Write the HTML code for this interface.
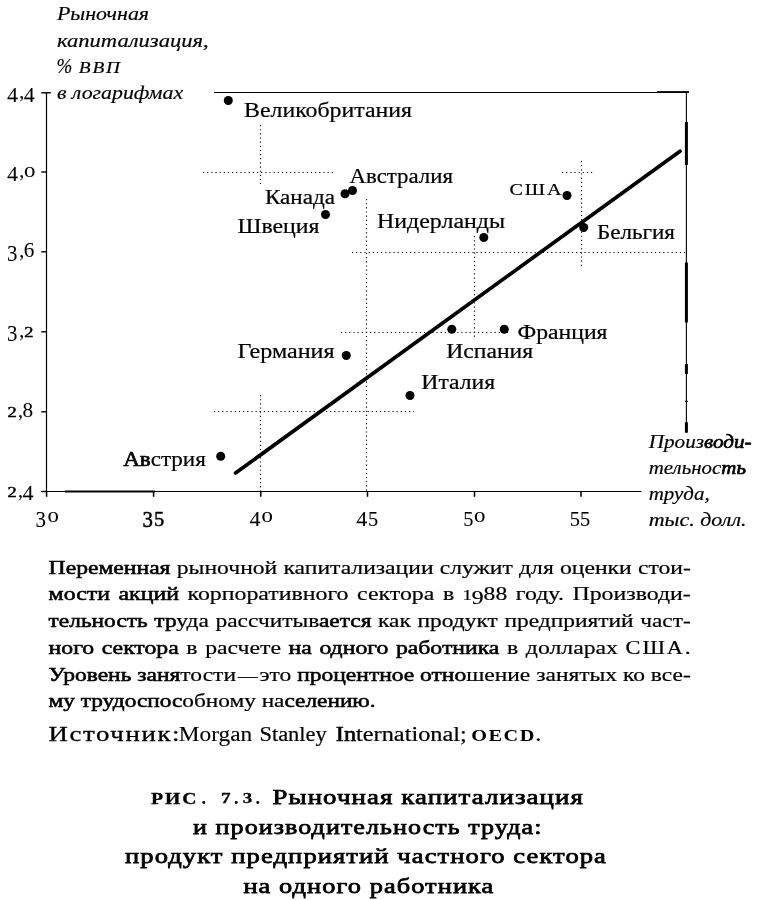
<!DOCTYPE html>
<html lang="ru"><head><meta charset="utf-8"><title>Рис. 7.3</title>
<style>
html,body{margin:0;padding:0;background:#fff;}
body{width:760px;height:900px;overflow:hidden;font-family:"Liberation Serif",serif;}
svg{display:block;will-change:transform;}
svg text{font-family:"Liberation Serif",serif;fill:#000;}
</style></head><body>
<svg width="760" height="900" viewBox="0 0 760 900">
<rect width="760" height="900" fill="#fff"/>
<line x1="46.5" y1="92.3" x2="46.5" y2="492" stroke="#000" stroke-width="1.2" />
<line x1="41.3" y1="92.8" x2="50.8" y2="92.8" stroke="#000" stroke-width="1.4" />
<line x1="41.3" y1="172" x2="46.5" y2="172" stroke="#000" stroke-width="1.4" />
<line x1="41.3" y1="251.8" x2="46.5" y2="251.8" stroke="#000" stroke-width="1.4" />
<line x1="41.3" y1="331.8" x2="46.5" y2="331.8" stroke="#000" stroke-width="1.4" />
<line x1="41.3" y1="411.8" x2="46.5" y2="411.8" stroke="#000" stroke-width="1.4" />
<line x1="41.3" y1="491.5" x2="46.5" y2="491.5" stroke="#000" stroke-width="1.4" />
<line x1="41.3" y1="491.5" x2="641.5" y2="491.5" stroke="#000" stroke-width="1.15" />
<line x1="65" y1="491.6" x2="155" y2="491.6" stroke="#000" stroke-width="2" />
<line x1="46.6" y1="491.5" x2="46.6" y2="496.8" stroke="#000" stroke-width="1.5" />
<line x1="153.6" y1="491.5" x2="153.6" y2="496.8" stroke="#000" stroke-width="1.5" />
<line x1="260.8" y1="491.5" x2="260.8" y2="496.8" stroke="#000" stroke-width="1.5" />
<line x1="367.5" y1="491.5" x2="367.5" y2="496.8" stroke="#000" stroke-width="1.5" />
<line x1="474.5" y1="491.5" x2="474.5" y2="496.8" stroke="#000" stroke-width="1.5" />
<line x1="581" y1="491.5" x2="581" y2="496.8" stroke="#000" stroke-width="1.5" />
<line x1="214" y1="92.5" x2="688" y2="92.5" stroke="#000" stroke-width="1.1" />
<line x1="657" y1="92" x2="689" y2="92" stroke="#000" stroke-width="1.8" />
<line x1="686.4" y1="92" x2="686.4" y2="432.5" stroke="#000" stroke-width="1.1" />
<line x1="686.4" y1="122" x2="686.4" y2="165" stroke="#000" stroke-width="3" />
<line x1="686.4" y1="262.5" x2="686.4" y2="322.5" stroke="#000" stroke-width="3" />
<line x1="686.4" y1="364" x2="686.4" y2="374" stroke="#000" stroke-width="3" />
<line x1="686.4" y1="422.3" x2="686.4" y2="432.7" stroke="#000" stroke-width="3" />
<line x1="684.8" y1="401.3" x2="688.0" y2="401.3" stroke="#000" stroke-width="1" />
<line x1="203" y1="172.5" x2="335" y2="172.5" stroke="#000" stroke-width="1.15" stroke-dasharray="1.15 3.0"/>
<line x1="260.5" y1="125" x2="260.5" y2="184" stroke="#000" stroke-width="1.15" stroke-dasharray="1.15 3.0"/>
<line x1="562" y1="172.5" x2="595" y2="172.5" stroke="#000" stroke-width="1.15" stroke-dasharray="1.15 3.0"/>
<line x1="581.5" y1="161" x2="581.5" y2="268" stroke="#000" stroke-width="1.15" stroke-dasharray="1.15 3.0"/>
<line x1="352" y1="252.5" x2="686" y2="252.5" stroke="#000" stroke-width="1.15" stroke-dasharray="1.15 3.0"/>
<line x1="366.5" y1="199" x2="366.5" y2="491" stroke="#000" stroke-width="1.15" stroke-dasharray="1.15 3.0"/>
<line x1="474.5" y1="236" x2="474.5" y2="337" stroke="#000" stroke-width="1.15" stroke-dasharray="1.15 3.0"/>
<line x1="341" y1="332.5" x2="508" y2="332.5" stroke="#000" stroke-width="1.15" stroke-dasharray="1.15 3.0"/>
<line x1="214" y1="411.5" x2="414" y2="411.5" stroke="#000" stroke-width="1.15" stroke-dasharray="1.15 3.0"/>
<line x1="260.5" y1="395" x2="260.5" y2="491" stroke="#000" stroke-width="1.15" stroke-dasharray="1.15 3.0"/>
<line x1="235.5" y1="473" x2="680" y2="151.25" stroke="#000" stroke-width="3.7" stroke-linecap="round"/>
<circle cx="228.3" cy="100.5" r="4.5" fill="#000"/>
<circle cx="352.5" cy="190.5" r="4.5" fill="#000"/>
<circle cx="345" cy="193.7" r="4.5" fill="#000"/>
<circle cx="325.5" cy="214.5" r="4.5" fill="#000"/>
<circle cx="567" cy="195.5" r="4.5" fill="#000"/>
<circle cx="483.8" cy="237.5" r="4.5" fill="#000"/>
<circle cx="583.7" cy="227.5" r="4.5" fill="#000"/>
<circle cx="451.8" cy="329.3" r="4.5" fill="#000"/>
<circle cx="504.3" cy="329.3" r="4.5" fill="#000"/>
<circle cx="346.3" cy="355.5" r="4.5" fill="#000"/>
<circle cx="410" cy="395.5" r="4.5" fill="#000"/>
<circle cx="220.7" cy="456.2" r="4.5" fill="#000"/>
<text x="244" y="117" font-size="20" textLength="168" lengthAdjust="spacingAndGlyphs" stroke="#000" stroke-width="0.2">Великобритания</text>
<text x="349.5" y="183" font-size="20" textLength="103.5" lengthAdjust="spacingAndGlyphs" stroke="#000" stroke-width="0.2">Австралия</text>
<text x="265" y="204" font-size="20" textLength="70" lengthAdjust="spacingAndGlyphs" stroke="#000" stroke-width="0.2">Канада</text>
<text x="237.5" y="232.5" font-size="20" textLength="82" lengthAdjust="spacingAndGlyphs" stroke="#000" stroke-width="0.2">Швеция</text>
<text x="377" y="227.5" font-size="20" textLength="128" lengthAdjust="spacingAndGlyphs" stroke="#000" stroke-width="0.2">Нидерланды</text>
<text x="597" y="238.8" font-size="20" textLength="78" lengthAdjust="spacingAndGlyphs" stroke="#000" stroke-width="0.2">Бельгия</text>
<text x="446.3" y="357.5" font-size="20" textLength="86.8" lengthAdjust="spacingAndGlyphs" stroke="#000" stroke-width="0.2">Испания</text>
<text x="517.5" y="338.8" font-size="20" textLength="90" lengthAdjust="spacingAndGlyphs" stroke="#000" stroke-width="0.2">Франция</text>
<text x="237.5" y="358" font-size="20" textLength="97" lengthAdjust="spacingAndGlyphs" stroke="#000" stroke-width="0.2">Германия</text>
<text x="421.3" y="388.8" font-size="20" textLength="73.8" lengthAdjust="spacingAndGlyphs" stroke="#000" stroke-width="0.2">Италия</text>
<text x="123.2" y="465.8" font-size="20" textLength="82.6" lengthAdjust="spacingAndGlyphs" stroke="#000" stroke-width="0.2"><tspan stroke="#000" stroke-width="0.6">Ав</tspan>стрия</text>
<text x="509.6" y="194.8" font-size="17.6" textLength="53.8" lengthAdjust="spacingAndGlyphs" letter-spacing="1.6" stroke="#000" stroke-width="0.2">США</text>
<text x="6.9" y="101.5" font-size="20.5" textLength="11" lengthAdjust="spacingAndGlyphs" stroke="#000" stroke-width="0.05">4</text>
<text x="19.3" y="97.9" font-size="20" stroke="#000" stroke-width="0.05">,</text>
<text x="23.7" y="101.5" font-size="20.5" textLength="11" lengthAdjust="spacingAndGlyphs" stroke="#000" stroke-width="0.05">4</text>
<text x="6.9" y="180.6" font-size="20.5" textLength="11" lengthAdjust="spacingAndGlyphs" stroke="#000" stroke-width="0.05">4</text>
<text x="19.3" y="177.0" font-size="20" stroke="#000" stroke-width="0.05">,</text>
<text x="24.1" y="177.0" font-size="21" textLength="11.4" lengthAdjust="spacingAndGlyphs" stroke="#000" stroke-width="0.05">о</text>
<text x="6.9" y="261.4" font-size="22.5" textLength="10.4" lengthAdjust="spacingAndGlyphs" stroke="#000" stroke-width="0.05">3</text>
<text x="19.3" y="256.8" font-size="20" stroke="#000" stroke-width="0.05">,</text>
<text x="23.7" y="256.8" font-size="20.3" textLength="10.6" lengthAdjust="spacingAndGlyphs" stroke="#000" stroke-width="0.05">6</text>
<text x="6.9" y="341.4" font-size="22.5" textLength="10.4" lengthAdjust="spacingAndGlyphs" stroke="#000" stroke-width="0.05">3</text>
<text x="19.3" y="336.8" font-size="20" stroke="#000" stroke-width="0.05">,</text>
<text x="24.3" y="336.8" font-size="14.4" textLength="9.2" lengthAdjust="spacingAndGlyphs" stroke="#000" stroke-width="0.45">2</text>
<text x="7.5" y="416.8" font-size="14.4" textLength="9.2" lengthAdjust="spacingAndGlyphs" stroke="#000" stroke-width="0.45">2</text>
<text x="18.1" y="416.8" font-size="20" stroke="#000" stroke-width="0.05">,</text>
<text x="22.5" y="416.8" font-size="20.3" textLength="10.6" lengthAdjust="spacingAndGlyphs" stroke="#000" stroke-width="0.05">8</text>
<text x="7.5" y="496.8" font-size="14.4" textLength="9.2" lengthAdjust="spacingAndGlyphs" stroke="#000" stroke-width="0.45">2</text>
<text x="18.1" y="496.8" font-size="20" stroke="#000" stroke-width="0.05">,</text>
<text x="22.5" y="500.4" font-size="20.5" textLength="11" lengthAdjust="spacingAndGlyphs" stroke="#000" stroke-width="0.05">4</text>
<text x="35.4" y="526.6" font-size="22.5" textLength="10.4" lengthAdjust="spacingAndGlyphs" stroke="#000" stroke-width="0.08">3</text>
<text x="47.4" y="522.0" font-size="21" textLength="11.4" lengthAdjust="spacingAndGlyphs" stroke="#000" stroke-width="0.08">о</text>
<text x="142.4" y="526.6" font-size="22.5" textLength="10.4" lengthAdjust="spacingAndGlyphs" stroke="#000" stroke-width="0.5">3</text>
<text x="154.0" y="526.3" font-size="21.6" textLength="10.2" lengthAdjust="spacingAndGlyphs" stroke="#000" stroke-width="0.5">5</text>
<text x="249.6" y="525.6" font-size="20.5" textLength="11" lengthAdjust="spacingAndGlyphs" stroke="#000" stroke-width="0.08">4</text>
<text x="261.6" y="522.0" font-size="21" textLength="11.4" lengthAdjust="spacingAndGlyphs" stroke="#000" stroke-width="0.08">о</text>
<text x="356.3" y="525.6" font-size="20.5" textLength="11" lengthAdjust="spacingAndGlyphs" stroke="#000" stroke-width="0.08">4</text>
<text x="367.9" y="526.3" font-size="21.6" textLength="10.2" lengthAdjust="spacingAndGlyphs" stroke="#000" stroke-width="0.08">5</text>
<text x="463.3" y="526.3" font-size="21.6" textLength="10.2" lengthAdjust="spacingAndGlyphs" stroke="#000" stroke-width="0.08">5</text>
<text x="474.0" y="522.0" font-size="21" textLength="11.4" lengthAdjust="spacingAndGlyphs" stroke="#000" stroke-width="0.08">о</text>
<text x="569.8" y="526.3" font-size="21.6" textLength="10.2" lengthAdjust="spacingAndGlyphs" stroke="#000" stroke-width="0.08">5</text>
<text x="580.1" y="526.3" font-size="21.6" textLength="10.2" lengthAdjust="spacingAndGlyphs" stroke="#000" stroke-width="0.08">5</text>
<text x="56.9" y="19.7" font-size="19.4" font-style="italic" textLength="92.2" lengthAdjust="spacingAndGlyphs" stroke="#000" stroke-width="0.18">Рыночная</text>
<text x="56.9" y="47.2" font-size="19.4" font-style="italic" textLength="151.8" lengthAdjust="spacingAndGlyphs" stroke="#000" stroke-width="0.18">капитализация,</text>
<text x="56.9" y="98.5" font-size="19.4" font-style="italic" textLength="126.2" lengthAdjust="spacingAndGlyphs" stroke="#000" stroke-width="0.18">в логарифмах</text>
<text x="56.6" y="72.6" font-size="20" font-style="italic" textLength="15.8" lengthAdjust="spacingAndGlyphs" stroke="#000" stroke-width="0.15">%</text>
<text x="78.8" y="72.6" font-size="17.4" font-style="italic" textLength="43" lengthAdjust="spacingAndGlyphs" letter-spacing="1.6" stroke="#000" stroke-width="0.2">ВВП</text>
<text x="648.7" y="447.9" font-size="19.6" font-style="italic" textLength="103" lengthAdjust="spacingAndGlyphs" stroke="#000" stroke-width="0.18">Произ<tspan stroke="#000" stroke-width="0.65">води-</tspan></text>
<text x="648.7" y="474" font-size="19.6" font-style="italic" textLength="97.3" lengthAdjust="spacingAndGlyphs" stroke="#000" stroke-width="0.18">тельнос<tspan stroke="#000" stroke-width="0.65">ть</tspan></text>
<text x="648.7" y="499.6" font-size="19.6" font-style="italic" textLength="61" lengthAdjust="spacingAndGlyphs" stroke="#000" stroke-width="0.18">труда,</text>
<text x="648.7" y="526.3" font-size="19.6" font-style="italic" textLength="97.8" lengthAdjust="spacingAndGlyphs" stroke="#000" stroke-width="0.18">тыс. долл.</text>
<text x="48.6" y="573.8" font-size="19.8" textLength="642.2" lengthAdjust="spacingAndGlyphs" stroke="#000" stroke-width="0.2" word-spacing="0.3"><tspan stroke="#000" stroke-width="0.55">Переменная</tspan> рыночной капитализации служит для оценки стои-</text>
<text x="48.6" y="600.4" font-size="19.8" textLength="642.2" lengthAdjust="spacingAndGlyphs" stroke="#000" stroke-width="0.2" word-spacing="2.2"><tspan stroke="#000" stroke-width="0.55">мости акций</tspan> корпоративного сектора в <tspan font-size="15">1</tspan><tspan font-size="19.6" dy="3.4">9</tspan><tspan font-size="19.6" dy="-3.4">88</tspan> году. Производи-</text>
<text x="48.6" y="627.1" font-size="19.8" textLength="642.2" lengthAdjust="spacingAndGlyphs" stroke="#000" stroke-width="0.2" word-spacing="0.7"><tspan stroke="#000" stroke-width="0.55">тельность тр</tspan>уда рассчитыв<tspan stroke="#000" stroke-width="0.55">ается</tspan> как <tspan stroke="#000" stroke-width="0.25">прод</tspan>укт предприятий част-</text>
<text x="48.6" y="653.8" font-size="19.8" textLength="642.2" lengthAdjust="spacingAndGlyphs" stroke="#000" stroke-width="0.2" word-spacing="1.4"><tspan stroke="#000" stroke-width="0.55">ного сектора</tspan> в расчете <tspan stroke="#000" stroke-width="0.55">на одного работника</tspan> в долларах <tspan font-size="18.6" letter-spacing="1.6">США</tspan>.</text>
<text x="48.6" y="680.6" font-size="19.8" textLength="642.2" lengthAdjust="spacingAndGlyphs" stroke="#000" stroke-width="0.2" word-spacing="0"><tspan stroke="#000" stroke-width="0.55">Уровень заня</tspan>тости <tspan font-size="16.5">—</tspan> это <tspan stroke="#000" stroke-width="0.55">процентное отно</tspan>шение занятых ко все-</text>
<text x="48.6" y="707.2" font-size="19.8" textLength="327" lengthAdjust="spacingAndGlyphs" stroke="#000" stroke-width="0.2"><tspan stroke="#000" stroke-width="0.55">му трудоспос</tspan>обному на<tspan stroke="#000" stroke-width="0.55">селению.</tspan></text>
<text x="48.6" y="740.7" font-size="20" textLength="132.5" lengthAdjust="spacingAndGlyphs" letter-spacing="1.2" stroke="#000" stroke-width="0.3">Источник:</text>
<text x="178.8" y="740.7" font-size="20" textLength="73.4" lengthAdjust="spacingAndGlyphs" stroke="#000" stroke-width="0.12">Morgan</text>
<text x="259.4" y="740.7" font-size="20" textLength="67.4" lengthAdjust="spacingAndGlyphs" stroke="#000" stroke-width="0.2">Stanley</text>
<text x="335.8" y="740.7" font-size="20" textLength="131" lengthAdjust="spacingAndGlyphs" stroke="#000" stroke-width="0.2"><tspan stroke="#000" stroke-width="0.55">In</tspan>ternational;</text>
<text x="471.3" y="740.7" font-size="16.8" font-weight="bold" textLength="71" lengthAdjust="spacingAndGlyphs" letter-spacing="1.2">OECD.</text>
<text x="151" y="804.2" font-size="16" font-weight="bold" textLength="47.4" lengthAdjust="spacingAndGlyphs" letter-spacing="1.6" stroke="#000" stroke-width="0.3">РИС</text>
<text x="201.6" y="804.2" font-size="18" font-weight="bold">.</text>
<text x="221" y="802.6" font-size="14.2" font-weight="bold" textLength="9.6" lengthAdjust="spacingAndGlyphs" stroke="#000" stroke-width="0.3">7</text>
<text x="234" y="804.2" font-size="18" font-weight="bold">.</text>
<text x="242.7" y="802.6" font-size="14.2" font-weight="bold" textLength="9.4" lengthAdjust="spacingAndGlyphs" stroke="#000" stroke-width="0.3">3</text>
<text x="255.4" y="804.2" font-size="18" font-weight="bold">.</text>
<text x="272.5" y="804" font-size="22" textLength="311.5" lengthAdjust="spacingAndGlyphs" letter-spacing="0.9" stroke="#000" stroke-width="0.75" word-spacing="0">Рыночная капитализация</text>
<text x="193" y="833.8" font-size="22" textLength="349.5" lengthAdjust="spacingAndGlyphs" letter-spacing="0.9" stroke="#000" stroke-width="0.75" word-spacing="0">и производительность труда:</text>
<text x="125" y="863.2" font-size="22" textLength="482" lengthAdjust="spacingAndGlyphs" letter-spacing="0.9" stroke="#000" stroke-width="0.75" word-spacing="0">продукт предприятий частного сектора</text>
<text x="243.4" y="893" font-size="22" textLength="251" lengthAdjust="spacingAndGlyphs" letter-spacing="0.9" stroke="#000" stroke-width="0.75" word-spacing="0">на одного работника</text>
</svg>
</body></html>
